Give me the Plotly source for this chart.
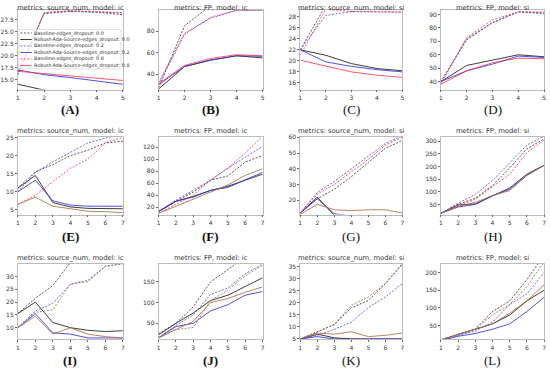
import plotly.graph_objects as go

W, H = 550, 371

x5 = [1, 2, 3, 4, 5]
x7 = [1, 2, 3, 4, 5, 6, 7]

series_names = [
    "Baseline-edges_dropout: 0.0",
    "Robust-Ada-Source-edges_dropout: 0.0",
    "Baseline-edges_dropout: 0.2",
    "Robust-Ada-Source-edges_dropout: 0.2",
    "Baseline-edges_dropout: 0.8",
    "Robust-Ada-Source-edges_dropout: 0.8",
]

panel_titles = [
    "metrics: source_num, model: ic", "metrics: FP, model: ic",
    "metrics: source_num, model: si", "metrics: FP, model: si",
] * 3
panel_labels = ["(A)", "(B)", "(C)", "(D)", "(E)", "(F)",
                "(G)", "(H)", "(I)", "(J)", "(K)", "(L)"]

# order of each panel: base0.0, robust0.0, base0.2, robust0.2, base0.8, robust0.8
A_vals = [[16.0, 28.9, 29.3, 29.0, 28.5], [14.0, 12.8, 12.0, 11.5, 11.0],
          [16.5, 28.7, 29.2, 29.1, 28.9], [17.0, 16.0, 15.4, 14.7, 14.0],
          [16.6, 28.8, 29.3, 29.1, 28.9], [16.7, 16.2, 15.8, 15.3, 14.8]]
B_vals = [[27, 85, 104, 115, 118], [26, 47, 53, 57, 55],
          [32, 78, 92, 99.5, 99.5], [30, 47, 53, 57, 56.5],
          [30, 77, 93, 99.5, 99.5], [31, 48, 54.5, 58, 57]]
C_vals = [[22.0, 30.0, 30.5, 30.5, 30.0], [22.0, 21.0, 19.5, 18.6, 18.2],
          [22.0, 28.2, 28.9, 28.9, 28.8], [22.0, 19.8, 19.0, 18.4, 18.0],
          [21.0, 29.3, 28.9, 28.9, 28.8], [20.1, 19.0, 18.0, 17.4, 17.0]]
D_vals = [[40, 72, 84, 92, 91], [40, 52, 56, 60, 58.5],
          [40, 71, 84, 92, 91], [40, 48, 53, 59, 58],
          [38, 73, 86, 92, 92], [38, 48, 54, 57.5, 57]]
E_vals = [[11, 15.5, 17.5, 20, 21.5, 23.5, 24], [11, 14.5, 7, 5.8, 5.4, 5.3, 5.3],
          [10, 15.3, 18.3, 20.8, 23.5, 24.8, 26], [10, 13.2, 7.5, 6.3, 6, 6, 6],
          [6.5, 9, 12.8, 16.5, 19, 23.5, 25], [6.5, 8.5, 6, 5.2, 4.6, 4.5, 4.2]]
F_vals = [[13, 30, 45, 65, 72, 95, 106], [13, 30, 38, 48, 55, 65, 75],
          [13, 32, 48, 65, 85, 103, 121], [13, 30, 37, 48, 53, 65, 78],
          [10, 25, 40, 65, 85, 110, 138], [10, 22, 33, 45, 57, 73, 84]]
G_vals = [[12, 21, 27, 35, 44, 53, 58], [12, 22, 10.5, 10, 10, 10, 10],
          [12, 25, 32, 40, 48, 56, 61], [12, 21, 11.5, 10, 10, 10, 10],
          [12, 24, 30, 38, 46, 55, 60], [11, 17.5, 14, 13.5, 14, 14, 12]]
H_vals = [[15, 50, 75, 125, 195, 270, 310], [15, 48, 52, 85, 115, 170, 205],
          [15, 55, 90, 145, 215, 285, 320], [15, 40, 50, 85, 110, 165, 205],
          [15, 45, 70, 120, 170, 255, 305], [15, 42, 58, 85, 105, 165, 205]]
I_vals = [[15.5, 21.5, 26.5, 35.5, 38, 40, 42], [15.5, 20, 12, 10, 9, 8.5, 8.8],
          [10, 16.5, 19.5, 27, 28.5, 34, 35], [10, 15.5, 8, 7.5, 6, 6, 6],
          [10, 16, 17, 27, 28, 34, 35], [10, 14.5, 7.5, 10, 7.5, 6.5, 6]]
J_vals = [[25, 50, 90, 150, 180, 210, 230], [22, 50, 75, 105, 118, 140, 160],
          [15, 45, 70, 120, 135, 170, 193], [15, 42, 50, 80, 95, 118, 127],
          [15, 35, 40, 105, 130, 165, 190], [15, 35, 55, 100, 110, 125, 138]]
K_vals = [[5, 8, 11, 18, 21, 28, 36], [5, 7, 5.5, 5, 5, 5, 5],
          [5, 6.5, 9, 12, 18, 22.5, 28], [5, 6, 5, 5, 5, 5, 5],
          [5, 8, 11, 19, 22.5, 28, 36.5], [5, 7.5, 7, 8, 6, 6.5, 7.5]]
L_vals = [[10, 25, 40, 90, 120, 180, 250], [10, 25, 38, 55, 80, 120, 150],
          [10, 22, 35, 60, 110, 140, 200], [8, 20, 28, 40, 55, 90, 130],
          [10, 25, 40, 80, 110, 160, 230], [10, 25, 38, 55, 85, 120, 165]]

panel_values = [A_vals, B_vals, C_vals, D_vals, E_vals, F_vals,
                G_vals, H_vals, I_vals, J_vals, K_vals, L_vals]

tick_vals = [
    [15.0, 17.5, 20.0, 22.5, 25.0, 27.5], [40, 60, 80], [16, 18, 20, 22, 24, 26, 28],
    [40, 50, 60, 70, 80, 90],
    [5, 10, 15, 20, 25], [20, 40, 60, 80, 100, 120], [20, 30, 40, 50, 60],
    [50, 100, 150, 200, 250, 300],
    [10, 15, 20, 25, 30], [50, 100, 150], [5, 10, 15, 20, 25, 30, 35], [50, 100, 150, 200],
]
tick_text = [
    ["15.0", "17.5", "20.0", "22.5", "25.0", "27.5"], None, None, None,
    None, None, None, None, None, None, None, None,
]

# style / layout (not data)
y_ranges = [
    [12.9, 29.5], [25.5, 99.8], [14.8, 29.2], [34, 93.5],
    [3.7, 25.2], [8, 137], [11, 60.3], [10, 318],
    [5.4, 35], [11, 194], [4.8, 36.3], [11, 225],
]
cols_px = [(15, 121), (157, 262), (300, 403), (442, 546)]
rows_px = [(7, 88), (136, 215), (265, 342)]
label_y_px = [108, 237, 363]

C_BLACK_D = "rgba(70,70,70,0.9)"
C_BLACK_S = "rgba(40,40,40,0.9)"
C_BLUE_D = "rgba(80,80,230,0.85)"
C_BLUE_S = "rgba(50,50,220,0.85)"
C_RED_D = "rgba(255,45,75,0.8)"
C_RED_S = "rgba(255,45,75,0.8)"
C_BROWN = "rgba(170,110,70,0.85)"

row_colors = [
    [C_BLACK_D, C_BLACK_S, C_BLUE_D, C_BLUE_S, C_RED_D, C_RED_S],
    [C_BLACK_D, C_BLACK_S, C_BLUE_D, C_BLUE_S, C_RED_D, C_BROWN],
    [C_BLACK_D, C_BLACK_S, C_BLUE_D, C_BLUE_S, C_BROWN, C_BROWN],
]
DOT = "2px,1.5px"
dashes = [DOT, "solid", DOT, "solid", DOT, "solid"]

fig = go.Figure()
layout = dict(
    width=W, height=H, margin=dict(l=0, r=0, t=0, b=0),
    paper_bgcolor="white", plot_bgcolor="white",
    font=dict(family="DejaVu Sans", color="#333"),
    showlegend=False,
)
annotations = []
shapes = []

for p in range(12):
    r, c = divmod(p, 4)
    ax = "" if p == 0 else str(p + 1)
    x0, x1 = cols_px[c]
    y0, y1 = rows_px[r]
    xs = x5 if r == 0 else x7
    for s in range(6):
        fig.add_trace(go.Scatter(
            x=xs, y=panel_values[p][s], mode="lines",
            name=series_names[s],
            line=dict(color=row_colors[r][s], width=1, dash=dashes[s]),
            xaxis="x" + ax, yaxis="y" + ax,
        ))
    axis_common = dict(showline=True, linecolor="#bbb", linewidth=0.8, mirror=True,
                       showgrid=False, zeroline=False, ticks="outside", ticklen=2,
                       tickcolor="#666", tickwidth=0.6,
                       tickfont=dict(size=6, family="DejaVu Sans", color="#333"))
    layout["xaxis" + ax] = dict(
        domain=[x0 / W, x1 / W], anchor="y" + ax, range=[1, xs[-1]],
        tickvals=xs, **axis_common)
    yax = dict(domain=[1 - y1 / H, 1 - y0 / H], anchor="x" + ax,
               range=y_ranges[p], tickvals=tick_vals[p], **axis_common)
    if tick_text[p] is not None:
        yax["ticktext"] = tick_text[p]
    layout["yaxis" + ax] = yax
    if r == 0:
        ty, tanchor = 1.0, "top"
    else:
        ty, tanchor = 1 - y0 / H + 0.5 / H, "bottom"
    annotations.append(dict(
        text=panel_titles[p], x=(x0 + x1) / 2 / W, y=ty,
        xref="paper", yref="paper", xanchor="center", yanchor=tanchor,
        showarrow=False, borderpad=0,
        font=dict(size=6.8, family="DejaVu Sans", color="#333")))
    lbl = panel_labels[p]
    annotations.append(dict(
        text=("<b>%s</b>" % lbl) if c < 2 else lbl,
        x=(x0 + x1) / 2 / W, y=1 - label_y_px[r] / H,
        xref="paper", yref="paper", xanchor="center", yanchor="middle",
        showarrow=False, font=dict(size=13, family="Liberation Serif", color="#111")))

# legend drawn inside panel A
LX0, LX1, LY0, LY1 = 16, 119, 27, 67
shapes.append(dict(type="rect", xref="paper", yref="paper",
                   x0=LX0 / W, x1=LX1 / W, y0=1 - LY1 / H, y1=1 - LY0 / H,
                   fillcolor="rgba(255,255,255,0.8)", line=dict(color="#ccc", width=0.6),
                   layer="above"))
for s in range(6):
    yy = 30.5 + s * 6.6
    shapes.append(dict(type="line", xref="paper", yref="paper",
                       x0=17.5 / W, x1=29 / W, y0=1 - yy / H, y1=1 - yy / H,
                       line=dict(color=row_colors[0][s], width=1, dash=dashes[s]),
                       layer="above"))
    annotations.append(dict(
        text=series_names[s], x=30.5 / W, y=1 - yy / H, xref="paper", yref="paper",
        xanchor="left", yanchor="middle", showarrow=False, borderpad=0,
        font=dict(size=4.9, family="DejaVu Sans", color="#333")))

layout["annotations"] = annotations
layout["shapes"] = shapes
fig.update_layout(**layout)
fig.write_html("out.html", config={"displayModeBar": False},
               post_script="document.body.style.margin='0px';")
